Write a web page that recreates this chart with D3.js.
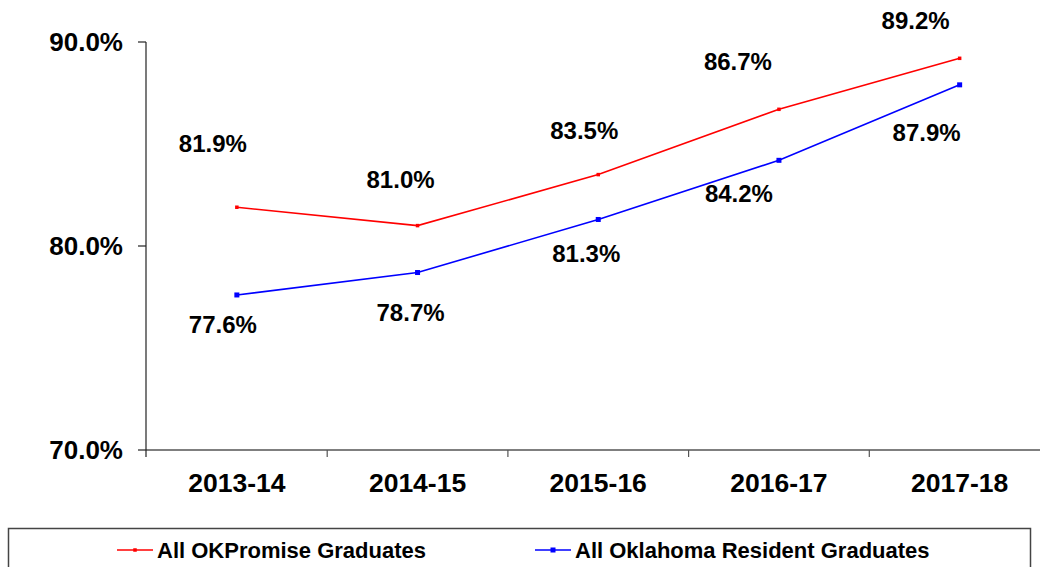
<!DOCTYPE html>
<html>
<head>
<meta charset="utf-8">
<script src="https://cdn.jsdelivr.net/npm/d3@7"></script>
<style>
  html, body { margin: 0; padding: 0; background: #fff; }
  svg { display: block; font-family: "Liberation Sans", Arial, sans-serif; font-weight: bold; }
</style>
</head>
<body>
<svg id="chart" width="1040" height="567"></svg>
<script>
// ---- data ----
const categories = ["2013-14", "2014-15", "2015-16", "2016-17", "2017-18"];
const okPromise = [81.9, 81.0, 83.5, 86.7, 89.2];
const okResident = [77.6, 78.7, 81.3, 84.2, 87.9];
const seriesNames = ["All OKPromise Graduates", "All Oklahoma Resident Graduates"];
const yTicks = [70, 80, 90];

// ---- layout (label offsets, px, relative to points) ----
const promiseLabelOffsets = [[-24, -55], [-17, -38], [-14, -36], [-41, -39], [-44, -29]];
const residentLabelOffsets = [[-14, 38], [-7, 48], [-12, 43], [-40, 42], [-33, 56]];

const svg = d3.select("#chart");

const x = d3.scaleBand().domain(categories).range([146.5, 1050]).padding(0);
const y = d3.scaleLinear().domain([70, 90]).range([450, 42]);
const cx = d => x(d) + x.bandwidth() / 2;

// x axis line + ticks at category boundaries
svg.append("line")
  .attr("x1", 146).attr("x2", 1040).attr("y1", y(70)).attr("y2", y(70))
  .attr("stroke", "#555").attr("stroke-width", 1.5);
const bounds = categories.slice(1).map(c => x(c));
svg.selectAll(".xtick").data(bounds).join("line")
  .attr("x1", d => d).attr("x2", d => d)
  .attr("y1", y(70)).attr("y2", y(70) + 7)
  .attr("stroke", "#555").attr("stroke-width", 1.2);

// y axis
svg.append("line")
  .attr("x1", 146).attr("x2", 146).attr("y1", y(90)).attr("y2", y(70) + 7)
  .attr("stroke", "#222").attr("stroke-width", 1.2);
svg.selectAll(".ytick").data(yTicks).join("line")
  .attr("x1", 138).attr("x2", 146)
  .attr("y1", d => y(d)).attr("y2", d => y(d))
  .attr("stroke", "#222").attr("stroke-width", 1.2);
svg.selectAll(".ylab").data(yTicks).join("text")
  .attr("x", 123).attr("y", d => y(d))
  .attr("text-anchor", "end").attr("dominant-baseline", "central")
  .attr("font-size", 26).attr("fill", "#000")
  .text(d => d3.format(".1f")(d) + "%");

// x labels
svg.selectAll(".xlab").data(categories).join("text")
  .attr("x", d => cx(d)).attr("y", 491.5)
  .attr("text-anchor", "middle")
  .attr("font-size", 26.5).attr("fill", "#000")
  .text(d => d);

const line = d3.line().x((d, i) => cx(categories[i])).y(d => y(d));

function drawSeries(vals, color, markerSize, square, offsets) {
  svg.append("path").datum(vals)
    .attr("d", line).attr("fill", "none")
    .attr("stroke", color).attr("stroke-width", 1.6);
  svg.selectAll(null).data(vals).join("rect")
    .attr("x", (d, i) => cx(categories[i]) - markerSize / 2)
    .attr("y", d => y(d) - markerSize / 2)
    .attr("width", markerSize).attr("height", markerSize)
    .attr("fill", color);
  svg.selectAll(null).data(vals).join("text")
    .attr("x", (d, i) => cx(categories[i]) + offsets[i][0])
    .attr("y", (d, i) => y(d) + offsets[i][1])
    .attr("text-anchor", "middle")
    .attr("font-size", 24).attr("fill", "#000")
    .text(d => d3.format(".1f")(d) + "%");
}
drawSeries(okPromise, "#ff0000", 3.5, false, promiseLabelOffsets);
drawSeries(okResident, "#0000ff", 5, true, residentLabelOffsets);

// legend
svg.append("rect")
  .attr("x", 8.5).attr("y", 528.5).attr("width", 1022).attr("height", 60)
  .attr("fill", "none").attr("stroke", "#444").attr("stroke-width", 1.5);
const legendItems = [
  { name: seriesNames[0], color: "#ff0000", x0: 117, size: 3.5 },
  { name: seriesNames[1], color: "#0000ff", x0: 535, size: 5 }
];
legendItems.forEach(it => {
  svg.append("line").attr("x1", it.x0).attr("x2", it.x0 + 36)
    .attr("y1", 550).attr("y2", 550).attr("stroke", it.color).attr("stroke-width", 1.6);
  svg.append("rect").attr("x", it.x0 + 18 - it.size / 2).attr("y", 550 - it.size / 2)
    .attr("width", it.size).attr("height", it.size).attr("fill", it.color);
  svg.append("text").attr("x", it.x0 + 40).attr("y", 558)
    .attr("font-size", 22).attr("fill", "#000").text(it.name);
});
</script>
</body>
</html>
